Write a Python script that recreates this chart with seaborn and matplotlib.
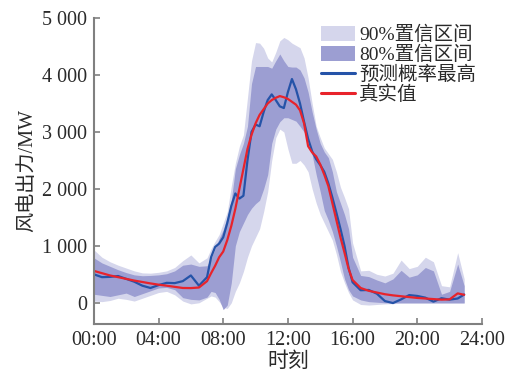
"""
Wind power forecast with confidence bands (recreated chart).
"""

import matplotlib
matplotlib.use("Agg")

import matplotlib.pyplot as plt
import matplotlib.ticker as mticker
from matplotlib.patches import Patch
from matplotlib.lines import Line2D
import pandas as pd
import seaborn as sns

# ── Data (hours, MW) ──────────────────────────────────────────────────
hours = [
    0, 0.5, 1, 1.5, 2, 2.5, 3, 3.5, 4, 4.5, 5, 5.5, 6, 6.5, 7,
    7.25, 7.5, 7.75, 8, 8.25, 8.5, 8.75, 9, 9.25, 9.5, 9.75, 10,
    10.25, 10.5, 10.75, 11, 11.25, 11.5, 11.75, 12, 12.25, 12.5, 12.75,
    13, 13.25, 13.5, 13.75, 14, 14.25, 14.5, 14.75, 15, 15.25, 15.5,
    15.75, 16, 16.5, 17, 17.5, 18, 18.5, 19, 19.5, 20, 20.5, 21, 21.5,
    22, 22.5, 22.9,
]

actual = [
    560, 520, 480, 450, 420, 390, 365, 340, 318, 300, 280, 260, 258, 268, 380,
    520, 650, 800, 900, 1100, 1350, 1650, 2000, 2350, 2700, 2950, 3150,
    3300, 3400, 3500, 3560, 3600, 3630, 3610, 3580, 3530, 3480, 3380,
    3150, 2750, 2640, 2570, 2430, 2250, 2050, 1750, 1450, 1150, 880,
    600, 400, 260, 210, 180, 150, 130, 115, 100, 85, 75, 65, 55,
    60, 165, 140,
]

most_likely = [
    500, 450, 455, 470, 420, 370, 300, 260, 310, 350, 345, 380, 480, 300, 450,
    800, 980, 1040, 1150, 1400, 1700, 1920, 1830, 1880, 2500, 3000, 3130,
    3100, 3350, 3560, 3660, 3560, 3450, 3420, 3700, 3930, 3750, 3500,
    3180, 2880, 2660, 2520, 2420, 2300, 2100, 1850, 1580, 1300, 1000,
    620, 360, 220, 225, 160, 30, -5, 60, 135, 120, 90, 20, 80,
    55, 75, 145,
]

p90_upper = [
    930, 800, 720, 660, 610, 560, 525, 520, 535, 560, 620, 740, 840, 700, 790,
    950, 1080, 1200, 1400, 1600, 2050, 2450, 2750, 2950, 3600, 4250, 4570,
    4560, 4470, 4300, 4230, 4400, 4600, 4660, 4620, 4560, 4520, 4480,
    4300, 3950, 3500, 3100, 2900, 2720, 2620, 2520, 2300, 2030, 1850,
    1650, 1050, 560, 570, 500, 470, 520, 750, 600, 640, 800, 720, 300,
    280, 880, 420,
]

p80_upper = [
    790, 700, 640, 580, 530, 490, 475, 480, 490, 510, 560, 660, 680, 640, 650,
    780, 950, 1130, 1280, 1500, 1800, 2350, 2600, 2800, 3100, 3850, 4150,
    4150, 4150, 4150, 4120, 4250, 4370, 4250, 4150, 4140, 4140, 4090,
    3950, 3700, 3350, 3050, 2800, 2650, 2550, 2300, 1950, 1750, 1550,
    1300, 800, 480, 460, 400, 350, 420, 570, 450, 490, 620, 560, 150,
    200, 680, 300,
]

p80_lower = [
    150, 130, 110, 140, 170, 110, 160, 210, 260, 270, 230, 90, 60, 50, 100,
    200, 180, 60, -120, -40, 350, 1000, 1250, 1400, 1550, 1660, 1740,
    1800, 2000, 2250, 2800, 3050, 3180, 3250, 3250, 3220, 3190, 3100,
    3000, 2900, 2600, 2250, 1950, 1620, 1450, 1250, 1000, 720, 420,
    230, 120, 50, 20, 10, 0, 0, 0, 0, 0, 0, 0, 0,
    0, 0, 0,
]

p90_lower = [
    30, 20, 40, 80, 60, 30, 80, 130, 180, 200, 140, 30, -20, 0, 80,
    120, 100, 20, -80, -100, 0, 200, 350, 550, 800, 1000, 1150,
    1300, 1600, 1950, 2500, 2900, 3050, 3000, 2700, 2450, 2450, 2500,
    2420, 2300, 2000, 1750, 1550, 1400, 1250, 1100, 850, 550, 350,
    180, 50, -30, -40, -30, -20, -15, -10, -10, -10, -10, -10, -10,
    -10, -10, -10,
]

tick_hours = [0, 4, 8, 12, 16, 20, 24]
tick_labels = ["00:00", "04:00", "08:00", "12:00", "16:00", "20:00", "24:00"]

df = pd.DataFrame({
    "hour": hours,
    "actual": actual,
    "most_likely": most_likely,
    "p90_upper": p90_upper,
    "p90_lower": p90_lower,
    "p80_upper": p80_upper,
    "p80_lower": p80_lower,
})

# ── Style ─────────────────────────────────────────────────────────────
sns.set_theme(style="ticks")
plt.rcParams["font.family"] = ["Liberation Serif", "Noto Sans CJK SC"]
plt.rcParams["axes.unicode_minus"] = False

LIGHT = "#d5d6ec"
DARK = "#9c9ed2"
BLUE = "#2553a8"
RED = "#e8232b"
GREY = "#808080"
TEXT = "#2a2a2a"

fig = plt.figure(figsize=(5.10, 3.77), dpi=100)
ax = fig.add_axes([0.184, 0.141, 0.761, 0.811])

ax.fill_between(df["hour"], df["p90_lower"], df["p90_upper"],
                color=LIGHT, linewidth=0)
ax.fill_between(df["hour"], df["p80_lower"], df["p80_upper"],
                color=DARK, linewidth=0)

sns.lineplot(data=df, x="hour", y="most_likely", ax=ax,
             color=BLUE, linewidth=1.6)
sns.lineplot(data=df, x="hour", y="actual", ax=ax,
             color=RED, linewidth=1.6)

ax.set_xlim(0, 24)
ax.set_ylim(-370, 5000)
ax.set_xticks(tick_hours)
ax.set_xticklabels(tick_labels)
ax.set_yticks([0, 1000, 2000, 3000, 4000, 5000])
ax.yaxis.set_major_formatter(
    mticker.FuncFormatter(lambda v, _: f"{int(v):,}".replace(",", " "))
)

ax.set_xlabel("时刻", fontsize=15, color=TEXT, labelpad=2)
ax.set_ylabel("风电出力/MW", fontsize=14.5, color=TEXT, labelpad=3)

for side in ["top", "right"]:
    ax.spines[side].set_visible(False)
for side in ["left", "bottom"]:
    ax.spines[side].set_color(GREY)
    ax.spines[side].set_linewidth(1.5)

ax.tick_params(direction="in", length=4, width=1.2, color=GREY,
               labelsize=14.5, labelcolor=TEXT, pad=5)

handles = [
    Patch(facecolor=LIGHT, edgecolor="none", label="90%置信区间"),
    Patch(facecolor=DARK, edgecolor="none", label="80%置信区间"),
    Line2D([0], [0], color=BLUE, linewidth=2.2, label="预测概率最高"),
    Line2D([0], [0], color=RED, linewidth=2.2, label="真实值"),
]
leg = ax.legend(handles=handles, loc="upper right", bbox_to_anchor=(1.005, 1.0),
                frameon=False, fontsize=14, handlelength=1.75, handleheight=0.8,
                handletextpad=0.2, labelspacing=0.08, borderaxespad=0.0)
for t in leg.get_texts():
    t.set_color(TEXT)

fig.savefig("out.png", dpi=100)
